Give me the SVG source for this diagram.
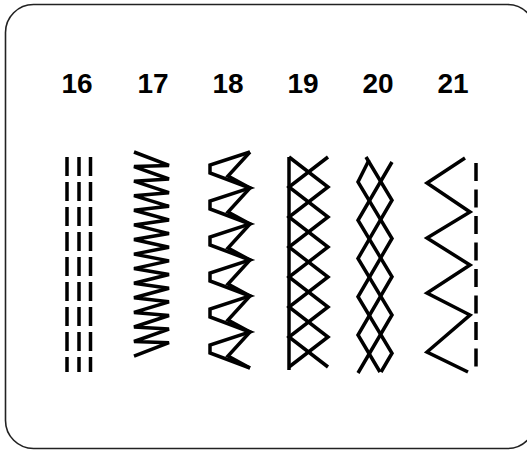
<svg xmlns="http://www.w3.org/2000/svg" width="527" height="451" viewBox="0 0 527 451">
<style>
.lbl{font-family:"Liberation Sans",Arial,sans-serif;font-weight:bold;font-size:28px;fill:#000;text-anchor:middle}
.st{fill:none;stroke:#000;stroke-width:3.5;stroke-linejoin:miter;stroke-miterlimit:4;stroke-linecap:butt}
.frame{fill:none;stroke:#222;stroke-width:1.6}
</style>
<rect class="frame" x="5.5" y="4.5" width="530" height="444" rx="28" ry="28"/>
<g id="labels">
<text class="lbl" x="77" y="93">16</text>
<text class="lbl" x="153" y="93">17</text>
<text class="lbl" x="228" y="93">18</text>
<text class="lbl" x="303" y="93">19</text>
<text class="lbl" x="378" y="93">20</text>
<text class="lbl" x="453" y="93">21</text>
</g>
<g id="p16">
<path class="st" stroke-dasharray="19 6" d="M67 157V372M79 157V372M90.5 157V372"/>
</g>
<g id="p17">
<path class="st" stroke-width="3.2" d="M134 152L169 165.4L134 166.6L169 179L134 181.2L169 192.7L134 195.7L169 206.3L134 210.3L169 219.9L134 224.9L169 233.6L134 239.5L169 247.2L134 254.1L169 260.9L134 268.6L169 274.5L134 283.2L169 288.2L134 297.8L169 301.8L134 312.4L169 315.5L134 327L169 329.1L134 341.5L169 342.7L134 356.1"/>
</g>
<g id="p18">
<path class="st" d="M250 152L210 165L210 173L250 188L210 201L210 209L250 224L210 237L210 245L250 260L210 273L210 281L250 296L210 309L210 317L250 332L210 345L210 353L250 368"/>
<path class="st" d="M250 152L228 176L250 188L228 212L250 224L228 248L250 260L228 284L250 296L228 320L250 332L228 356L250 368"/>
</g>
<g id="p19">
<path class="st" d="M289 157V370"/>
<path class="st" d="M289 157L328 187L289 217L328 247L289 277L328 307L289 337L328 367"/>
<path class="st" d="M328 157L289 187L328 217L289 247L328 277L289 307L328 337L289 367"/>
</g>
<g id="p20">
<path class="st" d="M369 160L358 182L392 238.5L358 296.75L392 353.25L381 372"/>
<path class="st" d="M392 162L358 220.25L392 276.75L358 335L380 372"/>
<path class="st" d="M366 157L392 200.25L358 258.5L392 315L358 373"/>
</g>
<g id="p21">
<path class="st" d="M465 158L427 183L470 212L427 238L470 265L427 293L470 315L427 352L468 372"/>
<path class="st" stroke-width="5" stroke-dasharray="18 8.5" d="M476 163V372"/>
</g>
</svg>
